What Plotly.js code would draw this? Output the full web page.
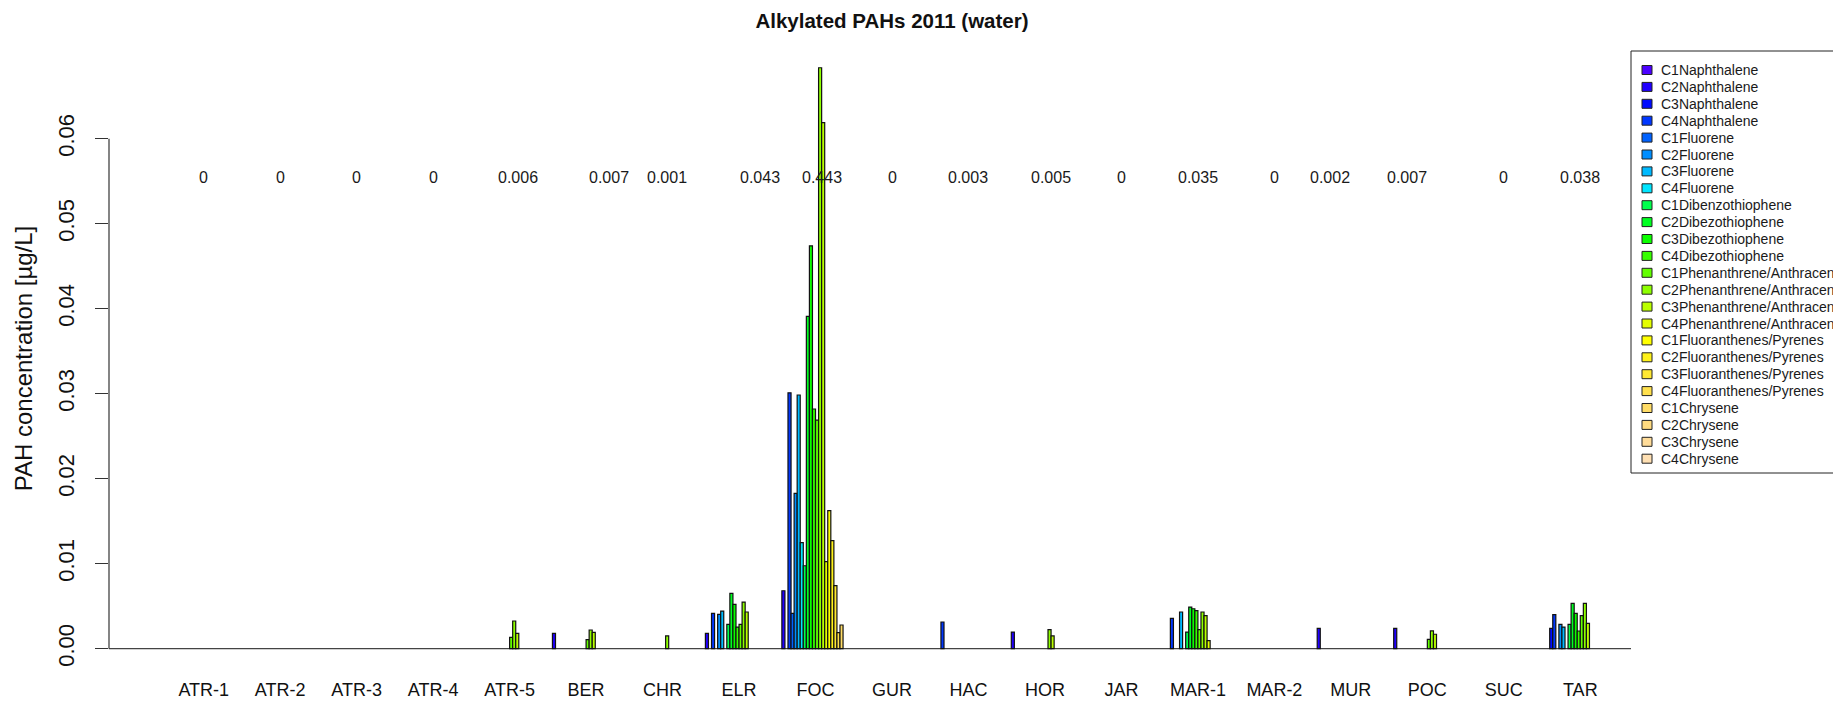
<!DOCTYPE html>
<html>
<head>
<meta charset="utf-8">
<script src="https://cdn.plot.ly/plotly-3.0.1.min.js"></script>
<style>
  html, body { margin: 0; padding: 0; background: #ffffff; }
  #chart { width: 1833px; height: 703px; }
</style>
</head>
<body>
<div id="chart"></div>
<script>
// Sampling sites along the x axis
const sites = ['ATR-1', 'ATR-2', 'ATR-3', 'ATR-4', 'ATR-5', 'BER', 'CHR', 'ELR', 'FOC', 'GUR',
               'HAC', 'HOR', 'JAR', 'MAR-1', 'MAR-2', 'MUR', 'POC', 'SUC', 'TAR'];

// Summed concentration printed above each site
const siteTotals = ['0', '0', '0', '0', '0.006', '0.007', '0.001', '0.043', '0.443', '0',
                    '0.003', '0.005', '0', '0.035', '0', '0.002', '0.007', '0', '0.038'];

// Concentrations [µg/L] per compound, one value per site (order as in `sites`)
const c1Naphthalene      = [0,0,0,0,0,0,0,0,0,0,0,0,0,0,0,0,0,0,0];
const c2Naphthalene      = [0,0,0,0,0,0.00181,0,0.00181,0.00682,0,0,0.00196,0,0,0,0.0024,0.0024,0,0];
const c3Naphthalene      = [0,0,0,0,0,0,0,0,0,0,0,0,0,0,0,0,0,0,0.0024];
const c4Naphthalene      = [0,0,0,0,0,0,0,0.00416,0.0301,0,0.00314,0,0,0.00357,0,0,0,0,0.0040];
const c1Fluorene         = [0,0,0,0,0,0,0,0,0.00416,0,0,0,0,0,0,0,0,0,0];
const c2Fluorene         = [0,0,0,0,0,0,0,0.00404,0.01828,0,0,0,0,0,0,0,0,0,0.00287];
const c3Fluorene         = [0,0,0,0,0,0,0,0.00443,0.02985,0,0,0,0,0.00432,0,0,0,0,0.00255];
const c4Fluorene         = [0,0,0,0,0,0,0,0,0.01247,0,0,0,0,0,0,0,0,0,0];
const c1Dibenzothiophene = [0,0,0,0,0,0,0,0.00287,0.00976,0,0,0,0,0.00196,0,0,0,0,0.00287];
const c2Dibezothiophene  = [0,0,0,0,0,0,0,0.00652,0.0391,0,0,0,0,0.0049,0,0,0,0,0.00534];
const c3Dibezothiophene  = [0,0,0,0,0,0,0,0.00522,0.0474,0,0,0,0,0.0047,0,0,0,0,0.00416];
const c4Dibezothiophene  = [0,0,0,0,0,0,0,0.00255,0.0282,0,0,0,0,0.00447,0,0,0,0,0.00208];
const c1Phenanthrene     = [0,0,0,0,0.00134,0.00106,0,0.00287,0.0269,0,0,0,0,0.00224,0,0,0.0011,0,0.00388];
const c2Phenanthrene     = [0,0,0,0,0.00326,0.0022,0.0015,0.00549,0.06835,0,0,0.00224,0,0.00432,0,0,0.0021,0,0.00534];
const c3Phenanthrene     = [0,0,0,0,0.00181,0.00193,0,0.00432,0.06188,0,0,0.0015,0,0.00388,0,0,0.0017,0,0.00299];
const c4Phenanthrene     = [0,0,0,0,0,0,0,0,0.01024,0,0,0,0,0.00094,0,0,0,0,0];
const c1Fluoranthenes    = [0,0,0,0,0,0,0,0,0.01624,0,0,0,0,0,0,0,0,0,0];
const c2Fluoranthenes    = [0,0,0,0,0,0,0,0,0.01271,0,0,0,0,0,0,0,0,0,0];
const c3Fluoranthenes    = [0,0,0,0,0,0,0,0,0.00741,0,0,0,0,0,0,0,0,0,0];
const c4Fluoranthenes    = [0,0,0,0,0,0,0,0,0.00188,0,0,0,0,0,0,0,0,0,0];
const c1Chrysene         = [0,0,0,0,0,0,0,0,0.00279,0,0,0,0,0,0,0,0,0,0];
const c2Chrysene         = [0,0,0,0,0,0,0,0,0,0,0,0,0,0,0,0,0,0,0];
const c3Chrysene         = [0,0,0,0,0,0,0,0,0,0,0,0,0,0,0,0,0,0,0];
const c4Chrysene         = [0,0,0,0,0,0,0,0,0,0,0,0,0,0,0,0,0,0,0];

const compoundNames = ['C1Naphthalene', 'C2Naphthalene', 'C3Naphthalene', 'C4Naphthalene',
  'C1Fluorene', 'C2Fluorene', 'C3Fluorene', 'C4Fluorene',
  'C1Dibenzothiophene', 'C2Dibezothiophene', 'C3Dibezothiophene', 'C4Dibezothiophene',
  'C1Phenanthrene/Anthracene', 'C2Phenanthrene/Anthracene', 'C3Phenanthrene/Anthracene', 'C4Phenanthrene/Anthracene',
  'C1Fluoranthenes/Pyrenes', 'C2Fluoranthenes/Pyrenes', 'C3Fluoranthenes/Pyrenes', 'C4Fluoranthenes/Pyrenes',
  'C1Chrysene', 'C2Chrysene', 'C3Chrysene', 'C4Chrysene'];

const compoundValues = [c1Naphthalene, c2Naphthalene, c3Naphthalene, c4Naphthalene,
  c1Fluorene, c2Fluorene, c3Fluorene, c4Fluorene,
  c1Dibenzothiophene, c2Dibezothiophene, c3Dibezothiophene, c4Dibezothiophene,
  c1Phenanthrene, c2Phenanthrene, c3Phenanthrene, c4Phenanthrene,
  c1Fluoranthenes, c2Fluoranthenes, c3Fluoranthenes, c4Fluoranthenes,
  c1Chrysene, c2Chrysene, c3Chrysene, c4Chrysene];

// topographic palette: blues, greens, then yellows fading to peach
const compoundColors = ['#4C00FF', '#2100FF', '#000BFF', '#0037FF', '#0062FF', '#008EFF', '#00BAFF', '#00E5FF',
  '#00FF4D', '#00FF21', '#0BFF00', '#37FF00', '#62FF00', '#8EFF00', '#BAFF00', '#E5FF00',
  '#FFFF00', '#FFF21A', '#FFE833', '#FFE04D', '#FFDC66', '#FFDB80', '#FFDC99', '#FFE0B3'];

const yTicks = [0, 0.01, 0.02, 0.03, 0.04, 0.05, 0.06];

// horizontal nudge (px) of each total label relative to its site
const totalNudge = [0, 0, 0, 0, 8, 23, 4, 21, 6, 0, 0, 6, 0, 0, 0, -21, -20, 0, 0];

const FONT = 'Liberation Sans, Arial, Helvetica, sans-serif';
const W = 1833, H = 703;
const M = { l: 109, r: 158, t: 45, b: 31 };
const plotW = W - M.l - M.r, plotH = H - M.t - M.b;
const px2x = px => (px - M.l) / plotW;          // pixel column -> paper x
const px2y = py => (H - M.b - py) / plotH;      // pixel row -> paper y

const traces = compoundNames.map((name, i) => ({
  type: 'bar',
  name: name,
  x: sites,
  y: compoundValues[i],
  marker: {
    color: compoundColors[i],
    // outline only bars that have height
    line: { color: '#111111', width: compoundValues[i].map(v => (v > 0 ? 1.2 : 0)) }
  },
  hoverinfo: 'x+y+name'
}));

// totals written above each site
const annotations = sites.map((s, k) => ({
  x: s, y: 0.0554, xref: 'x', yref: 'y', xshift: totalNudge[k],
  text: siteTotals[k], showarrow: false,
  font: { family: FONT, size: 16, color: '#1a1a1a' },
  xanchor: 'center', yanchor: 'middle'
}));

const shapes = [
  // left axis line spanning the labelled ticks only
  { type: 'line', xref: 'paper', yref: 'y', x0: 0, x1: 0, y0: 0, y1: 0.06,
    line: { color: '#333333', width: 1.2 } },
  // baseline at zero
  { type: 'line', xref: 'paper', yref: 'y', x0: 0, x1: px2x(1631), y0: 0, y1: 0,
    line: { color: '#444444', width: 1.3 }, layer: 'below' }
];

// legend box with swatches
const legLeft = 1631, legTop = 51, legBottom = 473, rowTop = 70, rowStep = 16.9;
shapes.push({ type: 'rect', xref: 'paper', yref: 'paper',
  x0: px2x(legLeft), x1: px2x(1900), y0: px2y(legBottom), y1: px2y(legTop),
  fillcolor: '#ffffff', line: { color: '#222222', width: 1 }, layer: 'above' });
compoundNames.forEach((name, i) => {
  const cy = rowTop + i * rowStep;
  shapes.push({ type: 'rect', xref: 'paper', yref: 'paper',
    x0: px2x(1642), x1: px2x(1652), y0: px2y(cy + 4.5), y1: px2y(cy - 4.5),
    fillcolor: compoundColors[i], line: { color: '#222222', width: 1 }, layer: 'above' });
  annotations.push({ xref: 'paper', yref: 'paper', x: px2x(1659), y: px2y(cy),
    text: name, showarrow: false, xanchor: 'left', yanchor: 'middle',
    font: { family: FONT, size: 14, color: '#1a1a1a' } });
});

const layout = {
  width: W, height: H,
  margin: M,
  paper_bgcolor: '#ffffff', plot_bgcolor: '#ffffff',
  font: { family: FONT, color: '#111111' },
  showlegend: false,
  barmode: 'group', bargap: 0.04, bargroupgap: 0,
  title: {
    text: '<b>Alkylated PAHs 2011 (water)</b>',
    font: { family: FONT, size: 20.5, color: '#111111' },
    x: 0.5, xref: 'paper', xanchor: 'center',
    y: 1 - 21 / H, yref: 'container', yanchor: 'middle'
  },
  xaxis: {
    type: 'category', range: [-1.2384, 19.2384],
    showgrid: false, zeroline: false, showline: false,
    ticks: 'outside', ticklen: 1, tickcolor: 'rgba(0,0,0,0)',
    tickfont: { family: FONT, size: 18, color: '#111111' }
  },
  yaxis: {
    range: [-0.002741, 0.071024],
    tickvals: yTicks, tickformat: '.2f', tickangle: -90,
    ticks: 'outside', ticklen: 13, tickwidth: 1, tickcolor: '#333333',
    ticklabelstandoff: 12,
    tickfont: { family: FONT, size: 22, color: '#111111' },
    showgrid: false, showline: false, zeroline: false,
    title: { text: 'PAH concentration [µg/L]', standoff: 14,
             font: { family: FONT, size: 24, color: '#111111' } }
  },
  annotations: annotations,
  shapes: shapes
};

Plotly.newPlot('chart', traces, layout, { displayModeBar: false, staticPlot: true });
</script>
</body>
</html>
